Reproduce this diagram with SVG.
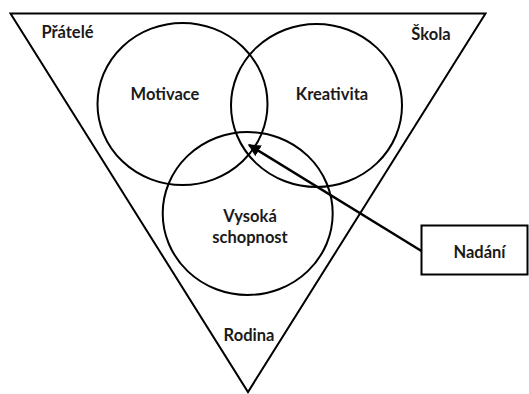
<svg xmlns="http://www.w3.org/2000/svg" width="529" height="394" viewBox="0 0 529 394">
<style>
.s{fill:none;stroke:#000;stroke-width:2}
.t{font-family:Lato,"Liberation Sans",sans-serif;font-weight:bold;font-size:16.5px;fill:#1a1a1a;text-anchor:middle}
</style>
<defs>
<marker id="ah" viewBox="0 0 10 10" refX="9" refY="5" markerWidth="5" markerHeight="5" orient="auto" markerUnits="strokeWidth">
<path d="M0,0 L10,5 L0,10 z" fill="#000"/>
</marker>
</defs>
<rect width="529" height="394" fill="#fff"/>
<g id="triangle">
<path class="s" d="M10.5,13.5 L485.5,13.5 L248,392 Z" stroke-linejoin="miter" stroke-width="2.2"/>
<text class="t" x="67.5" y="38">Přátelé</text>
<text class="t" x="431" y="40">Škola</text>
<text class="t" x="249" y="341">Rodina</text>
</g>
<g id="motivace">
<ellipse class="s" cx="182.5" cy="104" rx="85" ry="81"/>
<text class="t" x="165" y="100">Motivace</text>
</g>
<g id="kreativita">
<ellipse class="s" cx="316.5" cy="105.5" rx="85.5" ry="81.5"/>
<text class="t" x="332" y="100">Kreativita</text>
</g>
<g id="vysoka">
<ellipse class="s" cx="247.7" cy="213.5" rx="85" ry="81.5"/>
<text class="t" x="250" y="222">Vysoká</text>
<text class="t" x="250" y="243">schopnost</text>
</g>
<g id="nadani">
<rect class="s" x="421.5" y="225.5" width="106" height="49"/>
<text class="t" x="479.5" y="258">Nadání</text>
</g>
<g id="connectors">
<line x1="421.5" y1="251" x2="249" y2="145" stroke="#000" stroke-width="2.5" marker-end="url(#ah)"/>
</g>
</svg>
